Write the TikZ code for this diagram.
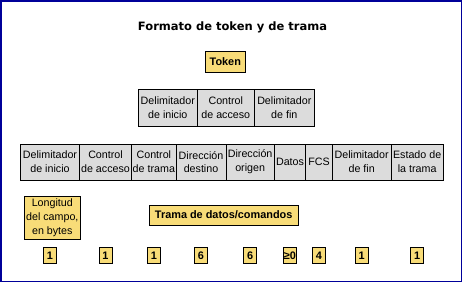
\documentclass[tikz,border=0pt]{standalone}
\usepackage{fontspec}
\setmainfont{Liberation Sans}
\newfontfamily\titlefont{DejaVu Sans}
\usetikzlibrary{positioning}
\definecolor{fieldgray}{HTML}{DCDCDC}
\definecolor{tagyellow}{HTML}{F8DC78}
\definecolor{framenavy}{HTML}{000099}

\begin{document}
\begin{tikzpicture}[
    x=1pt, y=-1pt, line width=0.9pt,
    font=\fontsize{10.7}{13.7}\selectfont,
    fieldbox/.style={draw, fill=fieldgray, inner sep=0pt, outer sep=0pt, minimum height=36pt, align=center},
    tagbox/.style  ={draw, fill=tagyellow, inner sep=0pt, outer sep=0pt, align=center, font=\fontsize{10.9}{13.7}\selectfont\bfseries},
    numbox/.style  ={tagbox, minimum width=13pt, minimum height=16.7pt}
]
\useasboundingbox (0,0) rectangle (462,282);

% --- Outer frame and title ---
\draw[framenavy, line width=1.5pt] (0.75,0.75) rectangle (461.25,281.25);
\node[font=\titlefont\bfseries\fontsize{11.5}{14}\selectfont] (title) at (232.5,27) {Formato de token y de trama};

% --- Token ---
\node[tagbox, minimum width=40.7pt, minimum height=21.7pt] (token) at (225.3,61.8) {Token};
\node[fieldbox, minimum height=37pt, minimum width=59pt, anchor=west] (tdelini) at (138.3,107.6) {Delimitador\\de inicio};
\node[fieldbox, minimum height=37pt, minimum width=57pt, right=0pt of tdelini] (tacc) {Control\\de acceso};
\node[fieldbox, minimum height=37pt, minimum width=60pt, right=0pt of tacc] (tdelfin) {Delimitador\\de fin};

% --- Frame fields ---
\node[fieldbox, minimum width=58.6pt, anchor=west] (fdelini) at (20.7,162) {Delimitador\\de inicio};
\node[fieldbox, minimum width=52.4pt, right=0pt of fdelini] (facc)   {Control\\de acceso};
\node[fieldbox, minimum width=44.3pt, right=0pt of facc]    (ftrama) {Control\\de trama};
\node[fieldbox, minimum width=50pt,   right=0pt of ftrama]  (fdest)  {Dirección\\destino};
\node[fieldbox, minimum width=48.3pt, right=0pt of fdest]   (forig)  {Dirección\\origen};
\node[fieldbox, minimum width=31.4pt, right=0pt of forig]   (fdatos) {Datos};
\node[fieldbox, minimum width=26.6pt, right=0pt of fdatos]  (ffcs)   {FCS};
\node[fieldbox, minimum width=58.7pt, right=0pt of ffcs]    (fdelfin){Delimitador\\de fin};
\node[fieldbox, minimum width=52.3pt, right=0pt of fdelfin] (fest)   {Estado de\\la trama};

% --- Labels ---
\node[tagbox, minimum width=56.7pt, minimum height=43.3pt, font=\fontsize{10.7}{13.7}\selectfont] (longitud) at (52.3,217.7) {Longitud\\del campo,\\en bytes};
\node[tagbox, minimum width=149.3pt, minimum height=20pt] (trama) at (223.7,215) {Trama de datos/comandos};

% --- Field sizes ---
\coordinate (numrow) at (0,255.3);
\foreach \f/\v in {fdelini/1, facc/1, ftrama/1, fdest/6, forig/6, fdatos/{≥0}, ffcs/4, fdelfin/1, fest/1}
  \node[numbox] (n-\f) at (\f |- numrow) {\v};

\end{tikzpicture}
\end{document}
